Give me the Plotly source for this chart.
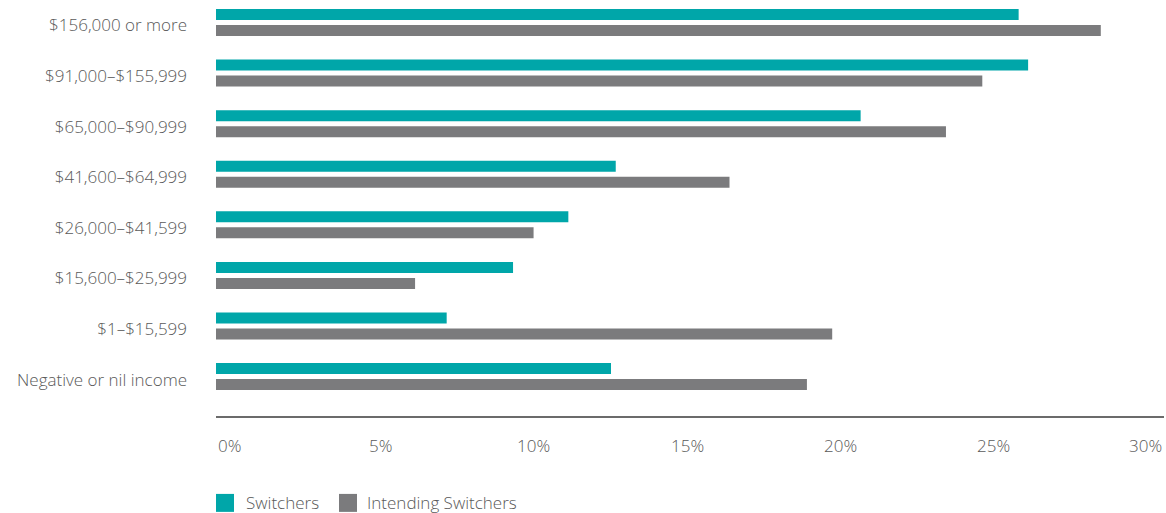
import plotly.graph_objects as go

# Household income bands, listed top to bottom
income_bands = [
    "$156,000 or more",
    "$91,000–$155,999",
    "$65,000–$90,999",
    "$41,600–$64,999",
    "$26,000–$41,599",
    "$15,600–$25,999",
    "$1–$15,599",
    "Negative or nil income",
]

# Share of each group (%) falling in each income band
switchers = [25.4, 25.7, 20.4, 12.65, 11.15, 9.4, 7.3, 12.5]
intending_switchers = [28.0, 24.25, 23.1, 16.25, 10.05, 6.3, 19.5, 18.7]

x_ticks = [0, 5, 10, 15, 20, 25, 30]
x_tick_labels = [f"{v}%" for v in x_ticks]

TEAL = "#00A6A9"
GREY = "#7B7B7D"
TEXT = "#595959"
FONT = "Open Sans"
FS = 17

fig = go.Figure()
fig.add_trace(go.Bar(
    name="Switchers", y=income_bands, x=switchers, orientation="h",
    marker=dict(color=TEAL, line=dict(width=0)), showlegend=False,
))
fig.add_trace(go.Bar(
    name="Intending Switchers", y=income_bands, x=intending_switchers, orientation="h",
    marker=dict(color=GREY, line=dict(width=0)), showlegend=False,
))

W, H = 1166, 513
ml, mr, mt, mb = 216, 2, 0, 96.5
plot_w = W - ml - mr
plot_h = H - mt - mb

fig.update_layout(
    width=W, height=H,
    margin=dict(l=ml, r=mr, t=mt, b=mb, pad=0),
    paper_bgcolor="white", plot_bgcolor="white",
    barmode="group", bargap=0.368, bargroupgap=0.3125,
    font=dict(family=FONT, size=FS, color=TEXT, weight=300),
    xaxis=dict(
        range=[0, 30], showgrid=False, zeroline=False,
        showticklabels=False, ticks="",
        showline=True, linecolor="#6b6b6b", linewidth=1.5,
        fixedrange=True,
    ),
    yaxis=dict(
        categoryorder="array", categoryarray=income_bands,
        range=[7.78, -0.445], showgrid=False, zeroline=False,
        ticks="", showline=False, ticklabelstandoff=28,
        ticklabelshift=-3,
        tickfont=dict(family=FONT, size=FS, color=TEXT, weight=300),
        fixedrange=True,
    ),
)

# Percentage labels spread evenly under the axis line
first_c = 11.5 / plot_w
last_c = 930.5 / plot_w
n = len(x_ticks)
tick_y = -29.5 / plot_h
for i, lab in enumerate(x_tick_labels):
    if i == 0:
        xpos, anchor = 0.0, "left"
    elif i == n - 1:
        xpos, anchor = 1.0, "right"
    else:
        xpos, anchor = first_c + (last_c - first_c) * i / (n - 1), "center"
    fig.add_annotation(
        x=xpos, y=tick_y, xref="paper", yref="paper", text=lab,
        showarrow=False, xanchor=anchor, yanchor="middle",
        font=dict(family=FONT, size=FS, color=TEXT, weight=300),
    )

# Legend drawn as swatches with labels
def px_x(px):
    return (px - ml) / plot_w

def px_y(py):
    return (plot_h - (py - mt)) / plot_h

legend_items = [("Switchers", TEAL, 216, 244), ("Intending Switchers", GREY, 339, 365)]
for label, color, sx, tx in legend_items:
    fig.add_shape(
        type="rect", xref="paper", yref="paper",
        x0=px_x(sx), x1=px_x(sx + 18), y0=px_y(512.5), y1=px_y(494.5),
        fillcolor=color, line=dict(width=0),
    )
    fig.add_annotation(
        x=px_x(tx), y=px_y(503), xref="paper", yref="paper", text=label,
        showarrow=False, xanchor="left", yanchor="middle",
        font=dict(family=FONT, size=FS, color=TEXT, weight=300),
    )

fig.write_html("out.html")
